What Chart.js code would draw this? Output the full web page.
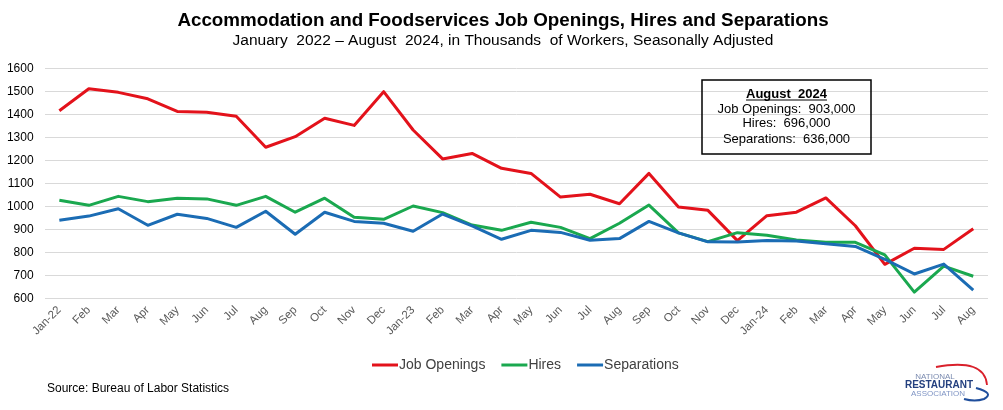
<!DOCTYPE html>
<html>
<head>
<meta charset="utf-8">
<script src="https://cdn.jsdelivr.net/npm/chart.js@4.4.1/dist/chart.umd.min.js"></script>
<style>
  html, body { margin: 0; padding: 0; background: #fff; }
  #wrap { width: 1003px; height: 410px; position: relative; }
</style>
</head>
<body>
<div id="wrap"><canvas id="myChart" width="1003" height="410"></canvas></div>
<script>
// Meses (enero 2022 - agosto 2024)
const meses = ['Jan-22', 'Feb', 'Mar', 'Apr', 'May', 'Jun', 'Jul', 'Aug', 'Sep', 'Oct', 'Nov', 'Dec',
               'Jan-23', 'Feb', 'Mar', 'Apr', 'May', 'Jun', 'Jul', 'Aug', 'Sep', 'Oct', 'Nov', 'Dec',
               'Jan-24', 'Feb', 'Mar', 'Apr', 'May', 'Jun', 'Jul', 'Aug'];

const jobOpenings = [1417, 1513, 1497, 1469, 1414, 1410, 1393, 1258, 1304, 1384, 1353, 1500,
                     1333, 1207, 1231, 1166, 1144, 1041, 1053, 1012, 1144, 998, 983, 851,
                     960, 975, 1037, 916, 748, 818, 813, 903];

const hires = [1027, 1005, 1044, 1021, 1036, 1033, 1005, 1044, 975, 1036, 953, 944,
               1002, 973, 919, 896, 931, 909, 860, 927, 1006, 885, 847, 886,
               875, 854, 844, 844, 789, 627, 740, 696];

const separations = [940, 958, 990, 918, 966, 948, 909, 979, 879, 975, 935, 927,
                     892, 967, 915, 857, 896, 887, 853, 860, 935, 885, 846, 845,
                     852, 850, 838, 826, 770, 706, 749, 636];

const cuadroTexto = ['August  2024', 'Job Openings:  903,000', 'Hires:  696,000', 'Separations:  636,000'];

const FUENTE = '"Liberation Sans", Arial, sans-serif';

// Textos, leyenda, cuadro y logo dibujados encima del grafico
const extras = {
    id: 'extras',
    afterDraw(chart) {
        const ctx = chart.ctx;
        ctx.save();

        // titulo
        ctx.textAlign = 'center';
        ctx.textBaseline = 'alphabetic';
        ctx.fillStyle = '#000';
        ctx.font = 'bold 18.8px ' + FUENTE;
        ctx.fillText('Accommodation and Foodservices Job Openings, Hires and Separations', 503, 26);
        ctx.font = '15.5px ' + FUENTE;
        ctx.fillText('January  2022 \u2013 August  2024, in Thousands  of Workers, Seasonally Adjusted', 503, 45);

        // cuadro de agosto 2024
        ctx.strokeStyle = '#000';
        ctx.lineWidth = 1.5;
        ctx.strokeRect(702, 80, 169, 74);
        const ys = [98, 112.5, 127, 143];
        cuadroTexto.forEach((t, i) => {
            ctx.font = (i === 0 ? 'bold ' : '') + '13px ' + FUENTE;
            ctx.fillText(t, 786.5, ys[i]);
            if (i === 0) {
                const w = ctx.measureText(t).width;
                ctx.lineWidth = 1;
                ctx.beginPath();
                ctx.moveTo(786.5 - w / 2, ys[i] + 2);
                ctx.lineTo(786.5 + w / 2, ys[i] + 2);
                ctx.stroke();
            }
        });

        // leyenda
        ctx.font = '14px ' + FUENTE;
        ctx.textAlign = 'left';
        ctx.textBaseline = 'middle';
        let x = 372;
        chart.data.datasets.forEach(ds => {
            ctx.strokeStyle = ds.borderColor;
            ctx.lineWidth = 3;
            ctx.beginPath();
            ctx.moveTo(x, 365);
            ctx.lineTo(x + 26, 365);
            ctx.stroke();
            ctx.fillStyle = '#404040';
            ctx.fillText(ds.label, x + 27, 365);
            x += 27 + ctx.measureText(ds.label).width + 16;
        });

        // fuente
        ctx.fillStyle = '#000';
        ctx.font = '12px ' + FUENTE;
        ctx.fillText('Source: Bureau of Labor Statistics', 47, 389);

        // logo
        ctx.strokeStyle = '#d9202b';
        ctx.lineWidth = 1.8;
        ctx.beginPath();
        ctx.moveTo(936, 367);
        ctx.quadraticCurveTo(985, 358, 987, 385);
        ctx.stroke();
        ctx.strokeStyle = '#1f4e9c';
        ctx.lineWidth = 2;
        ctx.beginPath();
        ctx.moveTo(976, 388);
        ctx.quadraticCurveTo(995, 393, 984, 399);
        ctx.quadraticCurveTo(975, 402, 964, 399);
        ctx.stroke();
        ctx.textAlign = 'center';
        ctx.textBaseline = 'alphabetic';
        ctx.fillStyle = '#7b8bb0';
        ctx.font = '8px ' + FUENTE;
        ctx.fillText('NATIONAL', 935, 379);
        ctx.fillStyle = '#24407f';
        ctx.font = 'bold 10px ' + FUENTE;
        ctx.fillText('RESTAURANT', 939, 388);
        ctx.fillStyle = '#7f94c4';
        ctx.font = '8px ' + FUENTE;
        ctx.fillText('ASSOCIATION', 938, 395.5);

        ctx.restore();
    }
};

const ctx = document.getElementById('myChart').getContext('2d');
const myChart = new Chart(ctx, {
    type: 'line',
    data: {
        labels: meses,
        datasets: [{
            label: 'Job Openings',
            data: jobOpenings,
            borderColor: '#e3121b',
            order: 3
        }, {
            label: 'Hires',
            data: hires,
            borderColor: '#1aa84f',
            order: 2
        }, {
            label: 'Separations',
            data: separations,
            borderColor: '#1b6cb4',
            order: 1
        }]
    },
    options: {
        responsive: false,
        animation: false,
        layout: {
            padding: { left: 0, right: 15, top: 68.7, bottom: 63.4 }
        },
        elements: {
            line: { borderWidth: 3, tension: 0, borderJoinStyle: 'round', fill: false },
            point: { radius: 0 }
        },
        scales: {
            x: {
                offset: true,
                grid: { display: false },
                border: { display: false },
                ticks: {
                    maxRotation: 45,
                    minRotation: 45,
                    autoSkip: false,
                    padding: -3,
                    color: '#595959',
                    font: { family: FUENTE, size: 11.5 }
                },
                afterFit(scale) { scale.height = 48.3; }
            },
            y: {
                min: 600,
                max: 1600,
                grid: { color: '#d9d9d9', drawTicks: false },
                border: { display: false },
                ticks: {
                    stepSize: 100,
                    padding: 11,
                    color: '#000',
                    font: { family: FUENTE, size: 12 },
                    callback: (v) => String(v)
                },
                afterFit(scale) { scale.width = 44.6; }
            }
        },
        plugins: {
            legend: { display: false },
            tooltip: { enabled: false }
        }
    },
    plugins: [extras]
});
</script>
</body>
</html>
